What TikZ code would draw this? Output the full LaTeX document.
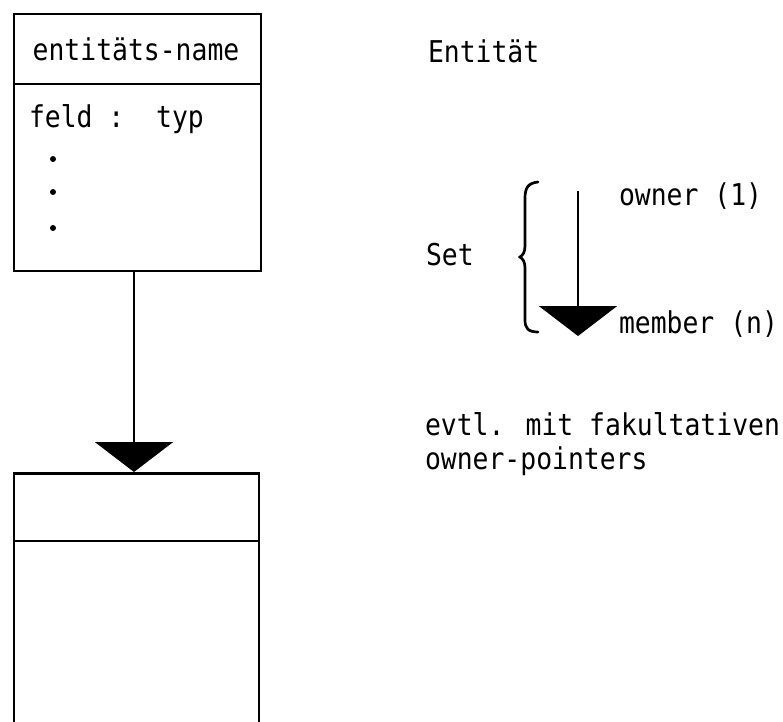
\documentclass[tikz,border=0pt]{standalone}
\usepackage{fontspec}
\usetikzlibrary{arrows.meta}
\newfontfamily\twfont[FakeStretch=0.88]{DejaVu Sans Mono}
\tikzset{
  txt/.style={inner sep=0pt, outer sep=0pt, font=\twfont\fontsize{30}{34}\selectfont},
  boxline/.style={line width=2.7pt, line join=miter},
  setarrow/.style={line width=2.7pt, -{Triangle[width=78pt,length=30pt]}},
  dotmark/.style={circle, fill=black, inner sep=0pt, minimum size=6pt},
}
\begin{document}
\begin{tikzpicture}[x=1pt,y=-1pt]
\useasboundingbox (0,0) rectangle (783,721);
% entity box
\node[draw, boxline, minimum width=247pt, minimum height=257pt, inner sep=0pt, anchor=north west] (ent) at (12.5,12.5) {};
\coordinate (entdivL) at (12.5,84);
\coordinate (entdivR) at (259.5,84);
\draw[boxline] (entdivL) -- (entdivR);
\node[txt, anchor=base] (entname) at (136,60) {entitäts-name};
\node[txt, anchor=base west] (feld) at (29,127) {feld\ :\ \ typ};
\node[dotmark] (d1) at (53,159) {};
\node[dotmark] (d2) at (53,192) {};
\node[dotmark] (d3) at (53,228) {};
% member box (open at bottom, runs past the page edge)
\node[draw, boxline, minimum width=245pt, minimum height=300pt, inner sep=0pt, anchor=north west] (memb) at (12.5,472) {};
\coordinate (membdivL) at (12.5,541);
\coordinate (membdivR) at (257.5,541);
\draw[boxline] (membdivL) -- (membdivR);
% connector
\coordinate (entout) at (ent.south -| 134,0);
\coordinate (membin) at (memb.north -| 134,0);
\draw[setarrow] (entout) -- (membin);
% legend
\node[txt, anchor=base west] (entitaet) at (428,62) {Entität};
\node[txt, anchor=base west] (setlbl) at (426,265) {Set};
\draw[line width=2.7pt, line cap=round]
  (538,182) .. controls (528,183) and (525,188) .. (525,198)
  -- (525,246) .. controls (525,252) and (523,255) .. (520,257)
  .. controls (523,259) and (525,262) .. (525,268)
  -- (525,320) .. controls (525,328) and (528,332) .. (538,332);
\coordinate (own) at (578,191);
\coordinate (mem) at (578,336);
\draw[setarrow] (own) -- (mem);
\node[txt, anchor=base west] (ownlbl) at (619,205) {owner (1)};
\node[txt, anchor=base west] (memlbl) at (619,333) {member (n)};
\node[txt, anchor=base west] (evtl1) at (425,435) {evtl. mit fakultativen};
\node[txt, anchor=base west] (evtl2) at (425,469) {owner-pointers};
\end{tikzpicture}
\end{document}
